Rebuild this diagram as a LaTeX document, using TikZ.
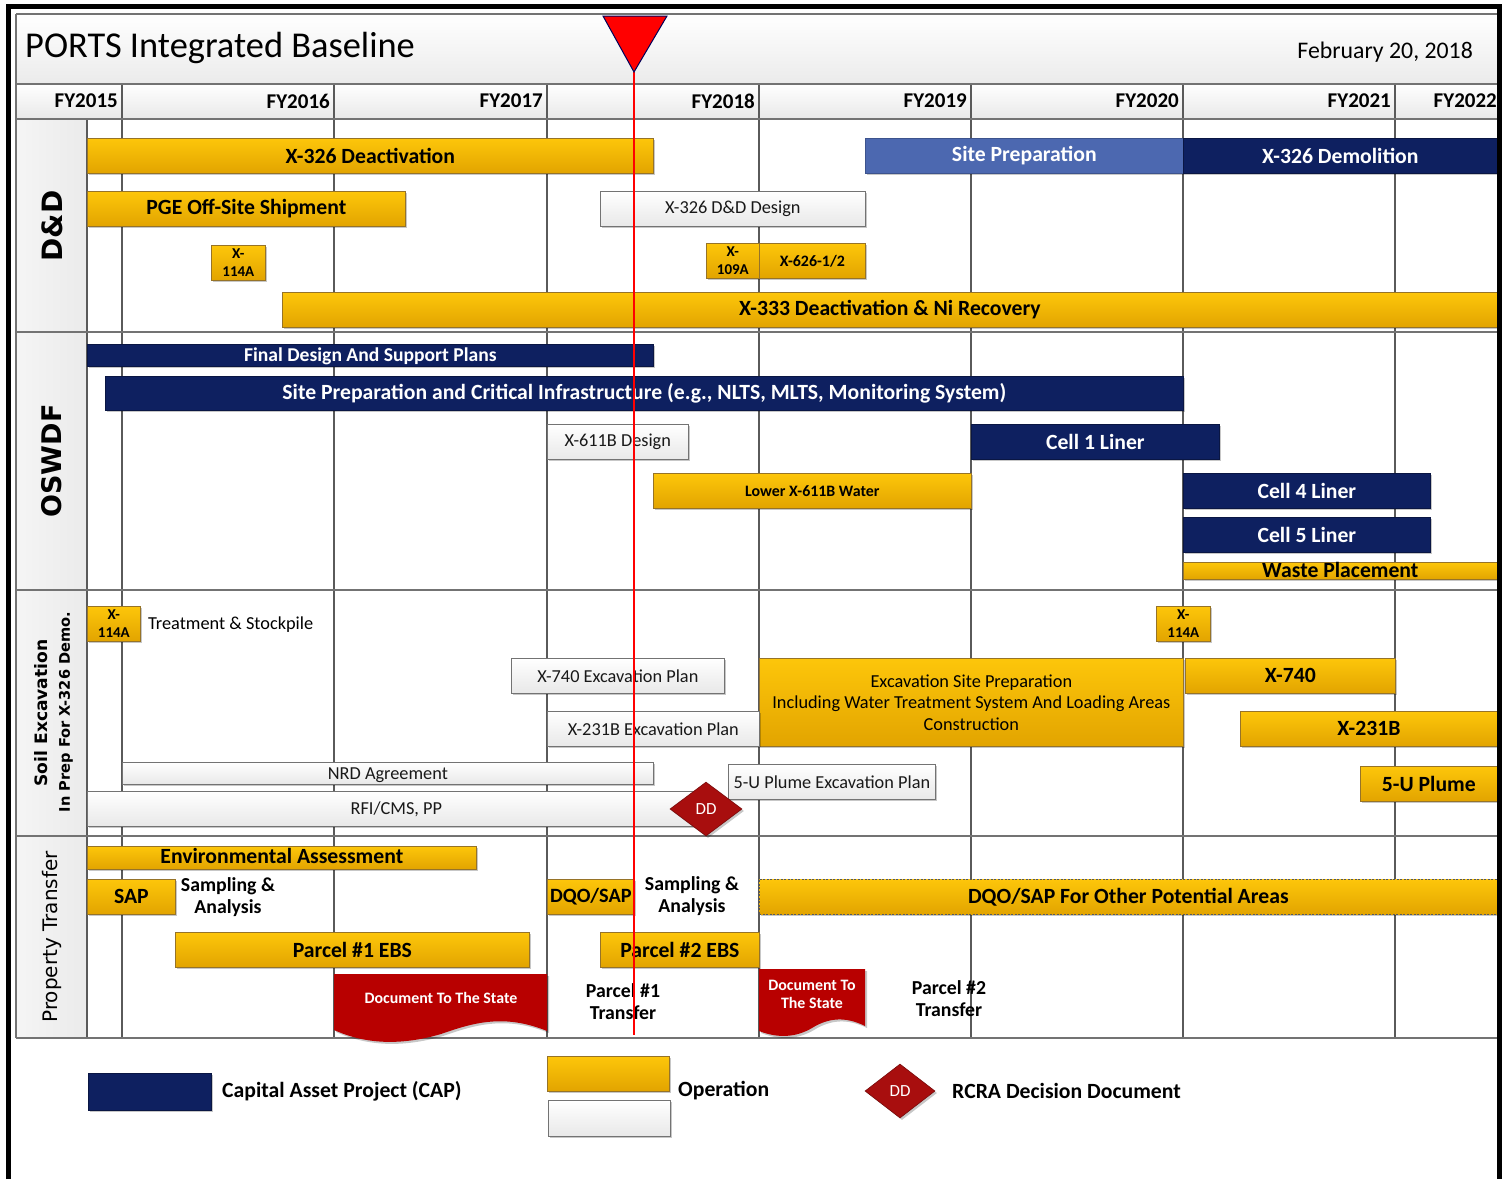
\documentclass[tikz,border=0pt]{standalone}
\usepackage{fontspec}
\setmainfont{Carlito}
\newfontfamily\vfont{DejaVu Sans}
\usetikzlibrary{shapes.geometric,shadows}
\newcommand\FS[2]{\fontsize{#1}{#2}\selectfont}
\definecolor{goldA}{RGB}{253,198,10}
\definecolor{goldB}{RGB}{226,164,0}
\definecolor{goldE}{RGB}{150,115,40}
\definecolor{navy}{RGB}{14,32,96}
\definecolor{sitep}{RGB}{76,104,176}
\definecolor{gridc}{RGB}{90,90,90}
\definecolor{ddred}{RGB}{168,14,14}
\definecolor{docred}{RGB}{184,0,0}
\tikzset{
  box/.style={rectangle, inner sep=0pt, anchor=north west, align=center,
    drop shadow={shadow xshift=2pt, shadow yshift=-2pt, fill=black, opacity=0.22}},
  goldbar/.style={box, draw=goldE, line width=0.7pt, top color=goldA, bottom color=goldB,
    text=black, font=\bfseries\FS{21.7}{24}},
  navybar/.style={box, draw=navy!70!black, line width=0.7pt, fill=navy, text=white, font=\bfseries\FS{21.7}{24}},
  whitebar/.style={box, draw=black!55, line width=0.7pt, top color=white, bottom color=black!9,
    text=black!90, font=\FS{18.3}{21}},
  smallbar/.style={goldbar, font=\bfseries\FS{15}{18}},
  ddiam/.style={diamond, fill=ddred, draw=ddred!70!black, line width=0.6pt, text=white,
    font=\FS{17}{20}, inner sep=0pt, minimum width=72pt, minimum height=54pt,
    drop shadow={shadow xshift=2pt, shadow yshift=-2pt, fill=black, opacity=0.22}},
  fy/.style={anchor=east, inner sep=0pt, font=\bfseries\FS{21}{24}},
  plain/.style={align=center, inner sep=0pt, font=\bfseries\FS{19.8}{22}},
  grid/.style={gridc, line width=1.6pt},
  sep/.style={black!55, line width=2.6pt},
}
\begin{document}
\begin{tikzpicture}[x=1pt,y=-1pt]
\useasboundingbox (0,0) rectangle (1502,1179);
% backgrounds
\fill[top color=white, bottom color=black!8] (16,14) rectangle (1497,84);
\fill[top color=white, bottom color=black!9] (16,84) rectangle (1497,119);
\fill[left color=black!4, right color=black!8] (16,119) rectangle (87,1038);
% grid
\foreach \gx in {122,334,547,759,971,1183,1395} \draw[grid] (\gx,84) -- (\gx,1038);
\draw[grid] (87,119) -- (87,1038);
\foreach \gy in {84,119,332,590,836,1038} \draw[sep] (16,\gy) -- (1497,\gy);
\draw[sep] (16,14) -- (1497,14);
\draw[sep] (16,14) -- (16,1038);
% title
\node[anchor=west, inner sep=0pt, font=\FS{36.4}{40}] (title) at (25,48) {PORTS Integrated Baseline};
\node[anchor=east, inner sep=0pt, font=\FS{23.8}{26}] (date) at (1473,52) {February 20, 2018};
% fiscal years
\node[fy] (fy15) at (118,101) {FY2015};
\node[fy] (fy16) at (330,101) {FY2016};
\node[fy] (fy17) at (543,101) {FY2017};
\node[fy] (fy18) at (755,101) {FY2018};
\node[fy] (fy19) at (967,101) {FY2019};
\node[fy] (fy20) at (1179,101) {FY2020};
\node[fy] (fy21) at (1391,101) {FY2021};
\node[fy] (fy22) at (1497,101) {FY2022};
% section labels
\node[rotate=90, font=\vfont\bfseries\FS{28}{30}] (lbdd) at (52,226) {D\&D};
\node[rotate=90, font=\vfont\bfseries\FS{27}{30}] (lbos) at (52,461) {OSWDF};
\node[rotate=90, font=\vfont\bfseries\FS{17.1}{20}] (lbsoil) at (41,713) {Soil Excavation};
\node[rotate=90, font=\vfont\bfseries\FS{14.6}{17}] (lbprep) at (66,712) {In Prep For X-326 Demo.};
\node[rotate=90, font=\vfont\FS{20}{22}] (lbpt) at (52,937) {Property Transfer};
% D&D
\node[goldbar, minimum width=566pt, minimum height=35pt] (xdeact) at (87,138) {X-326 Deactivation};
\node[navybar, fill=sitep, draw=sitep!80!black, minimum width=318pt, minimum height=35pt] (sitep) at (865,138) {Site Preparation};
\node[navybar, minimum width=314pt, minimum height=35pt] (demol) at (1183,138) {X-326 Demolition};
\node[goldbar, minimum width=318pt, minimum height=35pt] (pge) at (87,191) {PGE Off-Site Shipment};
\node[whitebar, minimum width=265pt, minimum height=35pt] (dddes) at (600,191) {X-326 D\&D Design};
\node[smallbar, minimum width=54pt, minimum height=35pt] (xa) at (211,245) {X-\\114A};
\node[smallbar, minimum width=53pt, minimum height=35pt] (xb) at (706,243) {X-\\109A};
\node[goldbar, font=\bfseries\FS{15.9}{18}, minimum width=106pt, minimum height=35pt] (x626) at (759,243) {X-626-1/2};
\node[goldbar, minimum width=1215pt, minimum height=35pt] (x333) at (282,292) {X-333 Deactivation \& Ni Recovery};
% OSWDF
\node[navybar, font=\bfseries\FS{19.6}{22}, minimum width=566pt, minimum height=22pt, text height=14pt, text depth=2pt] (fdsp) at (87,344) {Final Design And Support Plans};
\node[navybar, minimum width=1078pt, minimum height=34pt] (spci) at (105,376) {Site Preparation and Critical Infrastructure (e.g., NLTS, MLTS, Monitoring System)};
\node[whitebar, minimum width=141pt, minimum height=35pt] (x611d) at (547,424) {X-611B Design};
\node[navybar, minimum width=248pt, minimum height=35pt] (cell1) at (971,424) {Cell 1 Liner};
\node[goldbar, font=\bfseries\FS{15.9}{18}, minimum width=318pt, minimum height=35pt] (lower) at (653,473) {Lower X-611B Water};
\node[navybar, minimum width=247pt, minimum height=35pt] (cell4) at (1183,473) {Cell 4 Liner};
\node[navybar, minimum width=247pt, minimum height=35pt] (cell5) at (1183,517) {Cell 5 Liner};
\node[goldbar, minimum width=314pt, minimum height=17pt, text height=14pt, text depth=1pt] (waste) at (1183,562) {Waste Placement};
% Soil excavation
\node[smallbar, minimum width=53pt, minimum height=35pt] (xc) at (87,606) {X-\\114A};
\node[anchor=west, inner sep=0pt, font=\FS{18.3}{21}] (treat) at (148,625) {Treatment \& Stockpile};
\node[smallbar, minimum width=54pt, minimum height=35pt] (xd) at (1156,606) {X-\\114A};
\node[whitebar, minimum width=213pt, minimum height=35pt] (x740p) at (511,658) {X-740 Excavation Plan};
\node[goldbar, font=\FS{18.3}{21.5}, minimum width=424pt, minimum height=88pt] (esp) at (759,658) {Excavation Site Preparation\\Including Water Treatment System And Loading Areas\\Construction};
\node[goldbar, minimum width=210pt, minimum height=35pt] (x740) at (1185,658) {X-740};
\node[whitebar, minimum width=212pt, minimum height=35pt] (x231p) at (547,711) {X-231B Excavation Plan};
\node[goldbar, minimum width=257pt, minimum height=35pt] (x231) at (1240,711) {X-231B};
\node[whitebar, minimum width=531pt, minimum height=22pt, text height=14pt, text depth=2pt] (nrd) at (122,762) {NRD Agreement};
\node[whitebar, minimum width=207pt, minimum height=35pt] (fiveup) at (728,764) {5-U Plume Excavation Plan};
\node[whitebar, minimum width=618pt, minimum height=35pt] (rfi) at (87,791) {RFI/CMS, PP};
\node[ddiam] (dda) at (706,809) {DD};
\node[goldbar, minimum width=137pt, minimum height=35pt] (fiveu) at (1360,766) {5-U Plume};
% Property transfer
\node[goldbar, minimum width=389pt, minimum height=23pt, text height=14pt, text depth=3pt] (env) at (87,846) {Environmental Assessment};
\node[goldbar, minimum width=88pt, minimum height=35pt] (sap) at (87,879) {SAP};
\node[plain] (sa1) at (228,897) {Sampling \&\\Analysis};
\node[goldbar, font=\bfseries\FS{20.3}{24}, minimum width=87pt, minimum height=35pt] (dqo) at (547,879) {DQO/SAP};
\node[plain] (sa2) at (692,896) {Sampling \&\\Analysis};
\node[goldbar, draw=black!65, dash pattern=on 2pt off 1.5pt, minimum width=738pt, minimum height=35pt] (dqoo) at (759,879) {DQO/SAP For Other Potential Areas};
\node[goldbar, minimum width=354pt, minimum height=35pt] (p1ebs) at (175,932) {Parcel \#1 EBS};
\node[goldbar, minimum width=159pt, minimum height=35pt] (p2ebs) at (600,932) {Parcel \#2 EBS};
\path[fill=docred, drop shadow={shadow xshift=2pt, shadow yshift=-2pt, fill=black, opacity=0.22}]
  (334,974) -- (547,974) -- (547,1031)
  .. controls (505,1014) and (475,1022) .. (441,1034)
  .. controls (400,1046) and (365,1044) .. (334,1030) -- cycle;
\node[inner sep=0pt, text=white, font=\bfseries\FS{15.9}{18}] (doc1) at (441,998) {Document To The State};
\node[plain] (p1t) at (623,1002) {Parcel \#1\\Transfer};
\path[fill=docred, drop shadow={shadow xshift=2pt, shadow yshift=-2pt, fill=black, opacity=0.22}]
  (759,969) -- (865,969) -- (865,1026)
  .. controls (845,1016) and (828,1018) .. (812,1028)
  .. controls (795,1038) and (777,1038) .. (759,1031) -- cycle;
\node[inner sep=0pt, text=white, align=center, font=\bfseries\FS{15.9}{18}] (doc2) at (812,994) {Document To\\The State};
\node[plain] (p2t) at (949,999) {Parcel \#2\\Transfer};
% legend
\node[navybar, minimum width=123pt, minimum height=37pt] (legcap) at (88,1073) {};
\node[anchor=west, inner sep=0pt, font=\bfseries\FS{21.7}{24}] (captxt) at (222,1091) {Capital Asset Project (CAP)};
\node[goldbar, minimum width=122pt, minimum height=35pt] (legop) at (547,1056) {};
\node[whitebar, minimum width=122pt, minimum height=36pt] (legwh) at (548,1100) {};
\node[anchor=west, inner sep=0pt, font=\bfseries\FS{21.7}{24}] (optxt) at (678,1091) {Operation};
\node[ddiam, minimum width=70pt, minimum height=54pt] (ddb) at (900,1091) {DD};
\node[anchor=west, inner sep=0pt, font=\bfseries\FS{21.7}{24}] (rcra) at (952,1091) {RCRA Decision Document};
% today marker
\coordinate (tip) at (634,72);
\coordinate (lineend) at (634,1035);
\draw[red, line width=2pt] (tip) -- (lineend);
\draw[fill=red, draw=blue!35!black, line width=1pt] (603,16) -- (667,16) -- (tip) -- cycle;
% outer black frame
\draw[black, line width=5pt] (8.5,1179) -- (8.5,6.5) -- (1499.5,6.5) -- (1499.5,1179);
\end{tikzpicture}
\end{document}
